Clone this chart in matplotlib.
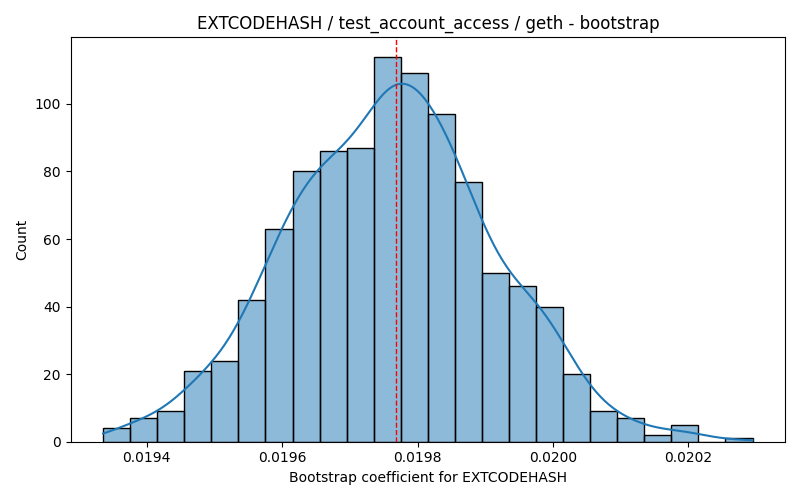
import numpy as np
import matplotlib
matplotlib.use("Agg")
import matplotlib.pyplot as plt

# Histogram data (bin counts)
bin_start = 0.0193355
bin_width = 0.00003997
counts = [4, 7, 9, 21, 24, 42, 63, 80, 86, 87, 114, 109, 97, 77, 50, 46, 40, 20, 9, 7, 2, 5, 0, 1]
estimate = 0.0197675

title = "EXTCODEHASH / test_account_access / geth - bootstrap"
xlabel = "Bootstrap coefficient for EXTCODEHASH"
ylabel = "Count"

counts = np.array(counts, dtype=float)
edges = bin_start + bin_width * np.arange(len(counts) + 1)
centers = (edges[:-1] + edges[1:]) / 2

fig, ax = plt.subplots(figsize=(8, 5), dpi=100)
ax.bar(edges[:-1], counts, width=bin_width, align="edge",
       facecolor=(0.1216, 0.4667, 0.7059, 0.5), edgecolor="black", linewidth=1)

# KDE estimated from the binned counts (Scott bandwidth for n samples)
n = counts.sum()
mean = np.sum(centers * counts) / n
std = np.sqrt(np.sum(counts * (centers - mean) ** 2) / n)
bw = std * n ** (-1 / 5)
grid = np.linspace(edges[0], edges[-1], 300)
dens = np.sum(counts[None, :] * np.exp(-0.5 * ((grid[:, None] - centers[None, :]) / bw) ** 2), axis=1)
dens = dens / (n * bw * np.sqrt(2 * np.pi))
ax.plot(grid, dens * n * bin_width, color="#1f77b4", linewidth=1.5)

ax.axvline(estimate, color="red", linestyle="--", linewidth=1)

ax.set_title(title)
ax.set_xlabel(xlabel)
ax.set_ylabel(ylabel)
ax.margins(x=0.05)
fig.tight_layout()
fig.savefig("out.png")
